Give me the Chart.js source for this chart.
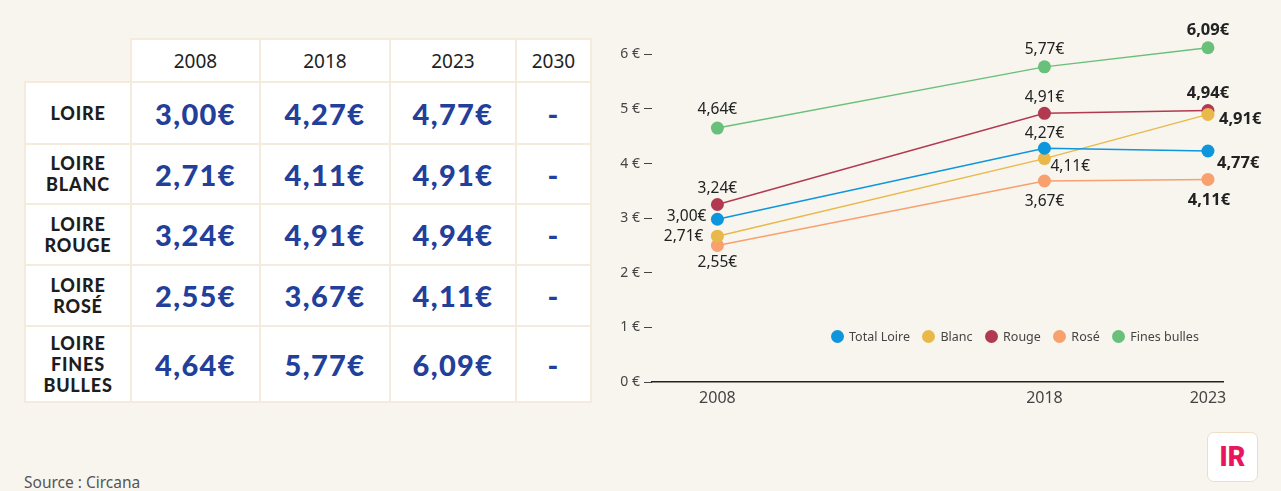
<!DOCTYPE html>
<html>
<head>
<meta charset="utf-8">
<script src="https://cdn.jsdelivr.net/npm/chart.js@4.4.1/dist/chart.umd.min.js"></script>
<style>
  html, body { margin: 0; padding: 0; }
  body {
    width: 1281px; height: 491px; position: relative; overflow: hidden;
    background: #f8f5ef; font-family: "Noto Sans", sans-serif;
  }
  #prices {
    position: absolute; left: 24px; top: 38px;
    border-collapse: collapse; table-layout: fixed;
  }
  #prices td, #prices th {
    background: #fff; border: 2px solid #f5ebdc; text-align: center; padding: 0;
  }
  #prices th {
    height: 41px; font-weight: 400; font-size: 19px; color: #222;
  }
  #prices th.blank { background: transparent; border: none; }
  #prices td.name {
    font-family: Lato, sans-serif; font-weight: 900; font-size: 18px;
    line-height: 21px; color: #1d1d1d; letter-spacing: 0.8px;
  }
  #prices td.val {
    font-family: Lato, sans-serif; font-weight: 900; font-size: 29px; color: #22409a;
    letter-spacing: 1.4px;
  }
  #chartBox { position: absolute; left: 600px; top: 0; width: 681px; height: 420px; }
  #legend {
    position: absolute; left: 831px; top: 328px; display: flex; gap: 12.5px;
    font-size: 12.5px; color: #444;
  }
  #legend span { display: flex; align-items: center; }
  #legend i { display: inline-block; width: 13px; height: 13px; border-radius: 50%; margin-right: 5px; }
  #source { position: absolute; left: 24px; top: 471px; font-size: 15.5px; color: #555; }
  #logo {
    position: absolute; left: 1207px; top: 432px; width: 51px; height: 50px;
    background: #fff; border: 1px solid #ecdfc6; border-radius: 7px; box-sizing: border-box;
    font-family: Roboto, sans-serif; font-weight: 900; font-size: 27px; color: #e8175d;
    display: flex; align-items: center; justify-content: center;
  }
</style>
</head>
<body>
<table id="prices"></table>
<div id="chartBox"><canvas id="myChart"></canvas></div>
<div id="legend"></div>
<div id="source">Source : Circana</div>
<div id="logo">IR</div>

<script>
// table data
const tableYears = ['2008', '2018', '2023', '2030'];
const tableRows = ['LOIRE', 'LOIRE<br>BLANC', 'LOIRE<br>ROUGE', 'LOIRE<br>ROSÉ', 'LOIRE<br>FINES<br>BULLES'];
const tableLoire = [3.00, 4.27, 4.77, null];
const tableBlanc = [2.71, 4.11, 4.91, null];
const tableRouge = [3.24, 4.91, 4.94, null];
const tableRose = [2.55, 3.67, 4.11, null];
const tableBulles = [4.64, 5.77, 6.09, null];

// chart data (plotted positions)
const years = [2008, 2018, 2023];
const yTicks = [0, 1, 2, 3, 4, 5, 6];
const seriesNames = ['Total Loire', 'Blanc', 'Rouge', 'Rosé', 'Fines bulles'];
const totalLoire = [2.98, 4.28, 4.23];
const blanc = [2.67, 4.09, 4.90];
const rouge = [3.25, 4.92, 4.97];
const rose = [2.50, 3.68, 3.71];
const finesBulles = [4.65, 5.77, 6.12];

// labels printed next to the points
const totalLoireText = ['3,00€', '4,27€', '4,77€'];
const blancText = ['2,71€', '4,11€', '4,91€'];
const rougeText = ['3,24€', '4,91€', '4,94€'];
const roseText = ['2,55€', '3,67€', '4,11€'];
const finesBullesText = ['4,64€', '5,77€', '6,09€'];

const colors = ['#0d96dc', '#e9b84a', '#b23a50', '#f8a06e', '#69c07a'];

// label placement: [dx, dy, align]
const labelPlace = [
    [[-11, -3, 'right'], [0, -15, 'center'], [9, 12, 'left']],
    [[-14, 0, 'right'], [6, 8, 'left'], [11, 5, 'left']],
    [[0, -16, 'center'], [0, -16, 'center'], [0, -17, 'center']],
    [[0, 17, 'center'], [0, 21, 'center'], [1, 21, 'center']],
    [[0, -18, 'center'], [0, -17, 'center'], [0, -17, 'center']]
];

// build the table
function fmt(v) {
    if (v === null) return '-';
    return v.toFixed(2).replace('.', ',') + '€';
}
const rowHeights = [62, 60, 61, 61, 76];
const colWidths = [106, 129, 130, 126, 75];
const tableValues = [tableLoire, tableBlanc, tableRouge, tableRose, tableBulles];
let html = '<colgroup>' + colWidths.map(w => `<col style="width:${w}px">`).join('') + '</colgroup>';
html += '<tr><th class="blank"></th>' + tableYears.map(y => `<th>${y}</th>`).join('') + '</tr>';
tableRows.forEach((name, i) => {
    html += `<tr style="height:${rowHeights[i]}px"><td class="name">${name}</td>`;
    tableValues[i].forEach(v => {
        html += `<td class="val">${fmt(v)}</td>`;
    });
    html += '</tr>';
});
document.getElementById('prices').innerHTML = html;

// legend
document.getElementById('legend').innerHTML = seriesNames.map((n, i) =>
    `<span><i style="background:${colors[i]}"></i>${n}</span>`).join('');

const allValues = [totalLoire, blanc, rouge, rose, finesBulles];
const allTexts = [totalLoireText, blancText, rougeText, roseText, finesBullesText];

const datasets = seriesNames.map((name, i) => ({
    label: name,
    data: years.map((y, j) => ({ x: y, y: allValues[i][j] })),
    borderColor: colors[i],
    backgroundColor: colors[i],
    borderWidth: 1.5,
    pointRadius: 6.5,
    pointHoverRadius: 6.5,
    pointBorderWidth: 0,
    tension: 0
}));

const pointLabels = {
    id: 'pointLabels',
    afterDatasetsDraw(chart) {
        const c = chart.ctx;
        c.save();
        c.fillStyle = '#222';
        c.textBaseline = 'middle';
        chart.data.datasets.forEach((ds, i) => {
            const meta = chart.getDatasetMeta(i);
            meta.data.forEach((pt, j) => {
                const p = labelPlace[i][j];
                const last = j === years.length - 1;
                c.font = last ? 'bold 16.5px "Noto Sans"' : '15.5px "Noto Sans"';
                c.textAlign = p[2];
                c.fillText(allTexts[i][j], pt.x + p[0], pt.y + p[1]);
            });
        });
        c.restore();
    }
};

const ctx = document.getElementById('myChart');
new Chart(ctx, {
    type: 'line',
    data: { datasets: datasets },
    options: {
        responsive: true,
        maintainAspectRatio: false,
        animation: false,
        layout: { padding: { top: 27, right: 58, left: 0, bottom: 0 } },
        plugins: { legend: { display: false }, tooltip: { enabled: false } },
        scales: {
            x: {
                type: 'linear',
                min: 2006,
                max: 2023.46,
                afterBuildTicks: s => { s.ticks = years.map(v => ({ value: v })); },
                afterFit: s => { s.height = 38; },
                grid: { drawOnChartArea: false, drawTicks: false },
                border: { display: true, color: '#222', width: 1.5 },
                ticks: {
                    padding: 7,
                    color: '#444',
                    font: { family: 'Noto Sans', size: 16 },
                    callback: v => String(v)
                }
            },
            y: {
                min: 0,
                max: 6.5,
                afterBuildTicks: s => { s.ticks = yTicks.map(v => ({ value: v })); },
                afterFit: s => { s.width = 52; },
                grid: { drawOnChartArea: false, drawTicks: true, tickLength: 8, tickColor: '#444', lineWidth: 1 },
                border: { display: false },
                ticks: {
                    padding: 4,
                    color: '#444',
                    font: { family: 'Noto Sans', size: 14 },
                    callback: v => v + ' €'
                }
            }
        }
    },
    plugins: [pointLabels]
});
</script>
</body>
</html>
